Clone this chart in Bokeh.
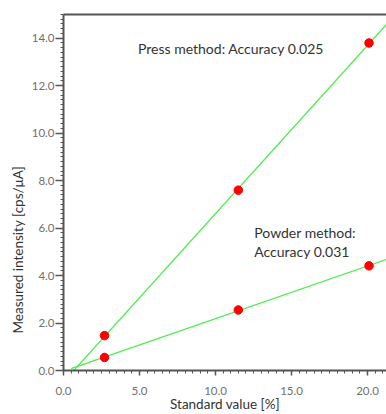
import numpy as np
from bokeh.plotting import figure
from bokeh.models import LinearAxis, FixedTicker, Label, Range1d, ColumnDataSource, Title
from bokeh.embed import file_html
from bokeh.resources import INLINE

# ---- data ----
std_values = [2.7, 11.5, 20.1]
press_intensity = [1.47, 7.6, 13.8]
powder_intensity = [0.55, 2.55, 4.41]
x_ticks = [0, 5, 10, 15, 20]
y_ticks = [0, 2, 4, 6, 8, 10, 12, 14]
press_note = "Press method: Accuracy 0.025"
powder_note = ["Powder method:", "Accuracy 0.031"]
line_x_range = [0.5, 22.0]

FONT = "Lato"
AXIS_COL = "#555555"
TICK_COL = "#707070"
TEXT_COL = "#333333"
GREEN = "#4cee4c"
RED = "#ff0000"

p = figure(width=386, height=414, output_backend="svg", toolbar_location=None,
           x_range=Range1d(0, 21.25), y_range=Range1d(0, 15),
           min_border_left=63, min_border_right=0, min_border_top=14, min_border_bottom=44)
p.outline_line_color = None
p.grid.grid_line_color = None
p.background_fill_color = "white"
p.border_fill_color = "white"

for ax, ticks in ((p.xaxis[0], x_ticks), (p.yaxis[0], y_ticks)):
    ax.ticker = FixedTicker(ticks=ticks,
                            minor_ticks=list(np.arange(0, 22.01, 0.5)) if ticks is x_ticks else list(np.arange(0, 15.01, 0.2)))
    ax.axis_line_color = AXIS_COL
    ax.axis_line_width = 2
    ax.major_tick_line_color = AXIS_COL
    ax.minor_tick_line_color = AXIS_COL
    ax.major_tick_line_width = 1.5
    ax.minor_tick_line_width = 1
    ax.major_tick_in = 0
    ax.minor_tick_in = 0
    ax.major_label_text_font = FONT
    ax.major_label_text_font_size = "11.5px"
    ax.major_label_text_color = TICK_COL
    ax.axis_label_text_font = FONT
    ax.axis_label_text_font_style = "normal"
    ax.axis_label_text_color = TEXT_COL
    ax.axis_label_text_font_size = "13.5px"

p.xaxis[0].major_tick_out = 5
p.xaxis[0].minor_tick_out = 3
p.yaxis[0].major_tick_out = 8
p.yaxis[0].minor_tick_out = 3
p.xaxis[0].major_label_overrides = {t: f"{t:.1f}" for t in x_ticks}
p.yaxis[0].major_label_overrides = {t: f"{t:.1f}" for t in y_ticks}
p.xaxis[0].major_label_standoff = 11
p.yaxis[0].major_label_standoff = 1
p.xaxis[0].axis_label = "Standard value [%]"
p.xaxis[0].axis_label_standoff = -2

# top border as an axis without ticks
top = LinearAxis(ticker=FixedTicker(ticks=[]), axis_line_color=AXIS_COL, axis_line_width=2,
                 major_tick_out=0, minor_tick_out=0, major_label_text_font_size="0px",
                 major_label_standoff=0)
p.add_layout(top, "above")

# y axis label as a side title, placed like the reference
p.add_layout(Title(text="Measured intensity [cps/μA]", align="left", offset=37,
                   text_font=FONT, text_font_size="13.5px", text_font_style="normal",
                   text_color=TEXT_COL, vertical_align="middle", standoff=4), "left")

# fitted lines
lx = np.array(line_x_range)
for ys in (press_intensity, powder_intensity):
    m, b = np.polyfit(std_values, ys, 1)
    p.line(lx, m * lx + b, line_color=GREEN, line_width=1.3)

src = ColumnDataSource(dict(x=std_values + std_values, y=press_intensity + powder_intensity))
p.scatter("x", "y", source=src, size=8.5, fill_color=RED, line_color=RED)

p.add_layout(Label(x=4.9, y=13.55, text=press_note, text_font=FONT, text_font_size="14px",
                   text_color=TEXT_COL, text_baseline="middle"))
p.add_layout(Label(x=12.55, y=5.8, text=powder_note[0], text_font=FONT, text_font_size="14px",
                   text_color=TEXT_COL, text_baseline="middle"))
p.add_layout(Label(x=12.55, y=5.0, text=powder_note[1], text_font=FONT, text_font_size="14px",
                   text_color=TEXT_COL, text_baseline="middle"))

open("out.html", "w").write(file_html(p, INLINE))
